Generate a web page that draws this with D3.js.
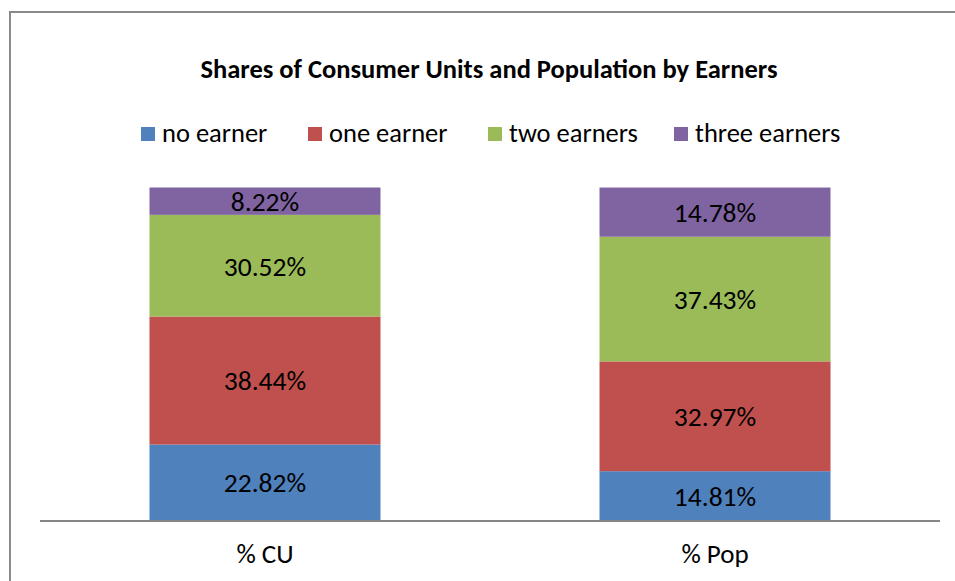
<!DOCTYPE html>
<html>
<head>
<meta charset="utf-8">
<script src="https://cdn.jsdelivr.net/npm/d3@7"></script>
<style>
  html, body { margin: 0; padding: 0; background: #fff; }
  svg { display: block; }
  text { font-family: Carlito, Calibri, Lato, "Open Sans", sans-serif; }
</style>
</head>
<body>
<svg id="chart" width="955" height="581"></svg>
<script>
// Chart data
const categories = ["% CU", "% Pop"];
const seriesNames = ["no earner", "one earner", "two earners", "three earners"];
const noEarner = [22.82, 14.81];
const oneEarner = [38.44, 32.97];
const twoEarners = [30.52, 37.43];
const threeEarners = [8.22, 14.78];
const seriesValues = [noEarner, oneEarner, twoEarners, threeEarners];
const colors = ["#4F81BD", "#C0504D", "#9BBB59", "#8064A2"];
const titleText = "Shares of Consumer Units and Population by Earners";

const svg = d3.select("#chart");

// Outer chart frame
svg.append("rect")
  .attr("x", 10).attr("y", 12)
  .attr("width", 980).attr("height", 620)
  .attr("fill", "#fff")
  .attr("stroke", "#8a8a8a")
  .attr("stroke-width", 2);

// Title
svg.append("text")
  .attr("x", 489).attr("y", 78)
  .attr("text-anchor", "middle")
  .attr("font-size", 26.5)
  .attr("font-weight", "bold")
  .attr("fill", "#000")
  .text(titleText);

// Rows for stacking
const rows = categories.map((c, i) => {
  const r = { category: c };
  seriesNames.forEach((s, j) => { r[s] = seriesValues[j][i]; });
  return r;
});
const stacked = d3.stack().keys(seriesNames)(rows);

const x = d3.scaleBand()
  .domain(categories)
  .range([40, 940])
  .paddingInner(0.4867)
  .paddingOuter(0.2433);

const y = d3.scaleLinear()
  .domain([0, 100])
  .range([520.5, 187.5]);

const color = d3.scaleOrdinal().domain(seriesNames).range(colors);

// Stacked bars
const layers = svg.append("g").selectAll("g")
  .data(stacked)
  .join("g")
  .attr("fill", d => color(d.key));

layers.selectAll("rect")
  .data(d => d)
  .join("rect")
  .attr("x", d => x(d.data.category))
  .attr("y", d => y(d[1]))
  .attr("width", x.bandwidth())
  .attr("height", d => y(d[0]) - y(d[1]));

// Value labels
layers.selectAll("text")
  .data(d => d.map(v => ({ v, key: d.key })))
  .join("text")
  .attr("x", d => x(d.v.data.category) + x.bandwidth() / 2)
  .attr("y", d => (y(d.v[0]) + y(d.v[1])) / 2)
  .attr("dy", "0.36em")
  .attr("text-anchor", "middle")
  .attr("font-size", 27.5)
  .attr("fill", "#000")
  .text(d => d3.format(".2f")(d.v.data[d.key]) + "%");

// Category axis
const axis = svg.append("g")
  .attr("transform", "translate(0,521)")
  .call(d3.axisBottom(x).tickSize(0));
axis.select(".domain")
  .attr("stroke", "#868686")
  .attr("stroke-width", 2)
  .attr("d", "M40,0H940");
axis.selectAll(".tick text")
  .attr("y", 42)
  .attr("dy", 0)
  .attr("font-size", 27)
  .attr("fill", "#000")
  .attr("font-family", "Carlito, Calibri, Lato, 'Open Sans', sans-serif");

// Legend
const legendX = [141, 308, 488, 674];
const legend = svg.append("g").selectAll("g")
  .data(seriesNames)
  .join("g")
  .attr("transform", (d, i) => `translate(${legendX[i]},127)`);
legend.append("rect")
  .attr("width", 14).attr("height", 14)
  .attr("fill", d => color(d));
legend.append("text")
  .attr("x", 21).attr("y", 15)
  .attr("font-size", 26.5)
  .attr("fill", "#000")
  .text(d => d);
</script>
</body>
</html>
